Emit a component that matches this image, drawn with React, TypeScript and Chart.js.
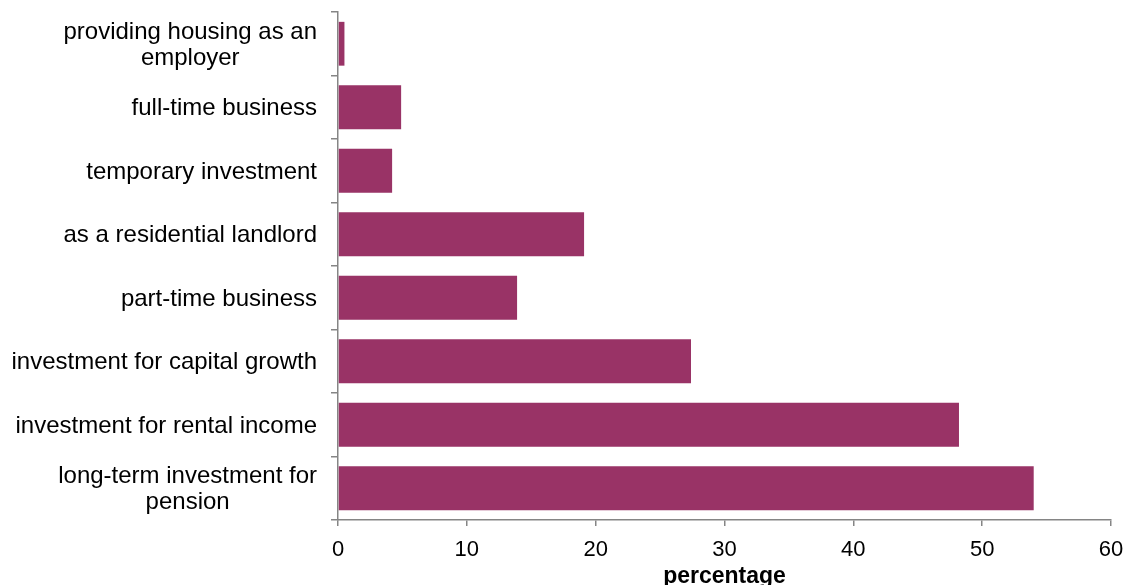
import React, { useEffect, useRef } from "react";
import { Chart, registerables } from "chart.js";

Chart.register(...registerables);

const categories: string[][] = [
  ["providing housing as an", "employer"],
  ["full-time business"],
  ["temporary investment"],
  ["as a residential landlord"],
  ["part-time business"],
  ["investment for capital growth"],
  ["investment for rental income"],
  ["long-term investment for", "pension"],
];
const values: number[] = [0.5, 4.9, 4.2, 19.1, 13.9, 27.4, 48.2, 54.0];
const xTicks: number[] = [0, 10, 20, 30, 40, 50, 60];
const xTitle = "percentage";

const FONT = "'Liberation Sans', Arial, sans-serif";
const AXIS = "#858585";

const yLabelPlugin = {
  id: "yLabels",
  afterDraw(chart: any) {
    const ctx = chart.ctx;
    const y = chart.scales.y;
    ctx.save();
    ctx.font = `24px ${FONT}`;
    ctx.fillStyle = "#000";
    ctx.textBaseline = "middle";
    ctx.textAlign = "center";
    const right = 317;
    const lh = 26;
    categories.forEach((lines, i) => {
      const cy = y.getPixelForValue(i) + 1.5;
      const w = Math.max(...lines.map((l) => ctx.measureText(l).width));
      const cx = right - w / 2;
      const start = cy - ((lines.length - 1) * lh) / 2;
      lines.forEach((l, j) => ctx.fillText(l, cx, start + j * lh));
    });
    ctx.restore();
  },
};

export default function App() {
  const ref = useRef<HTMLCanvasElement | null>(null);
  useEffect(() => {
    if (!ref.current) return;
    const chart = new Chart(ref.current, {
      type: "bar",
      data: {
        labels: categories.map((c) => c.join(" ")),
        datasets: [
          {
            data: values,
            backgroundColor: "#993366",
            borderWidth: 0,
            barPercentage: 0.69,
            categoryPercentage: 1,
          },
        ],
      },
      options: {
        indexAxis: "y",
        animation: false,
        responsive: false,
        maintainAspectRatio: false,
        layout: { padding: { top: 12, right: 19, left: 0, bottom: 0 } },
        plugins: { legend: { display: false }, tooltip: { enabled: false } },
        scales: {
          y: {
            type: "category",
            offset: true,
            ticks: { display: false },
            grid: {
              display: true,
              drawOnChartArea: false,
              drawTicks: true,
              tickLength: 7,
              color: AXIS,
              lineWidth: 1.5,
              offset: true,
            },
            border: { display: true, color: AXIS, width: 1.5 },
            afterFit: (s: any) => {
              s.width = 338;
            },
          },
          x: {
            type: "linear",
            min: 0,
            max: 60,
            afterBuildTicks: (s: any) => {
              s.ticks = xTicks.map((v) => ({ value: v }));
            },
            ticks: {
              color: "#000",
              font: { family: FONT, size: 22 },
              padding: 11,
              maxRotation: 0,
            },
            grid: {
              display: true,
              drawOnChartArea: false,
              drawTicks: true,
              tickLength: 6,
              color: AXIS,
              lineWidth: 1.5,
            },
            border: { display: true, color: AXIS, width: 1.5 },
            title: {
              display: true,
              text: xTitle,
              color: "#000",
              font: { family: FONT, size: 23, weight: "bold", lineHeight: 0.75 },
              padding: { top: 0, bottom: 0 },
            },
            afterFit: (s: any) => {
              s.height = 65;
              s.paddingLeft = 0;
              s.paddingRight = 0;
            },
          },
        },
      },
      plugins: [yLabelPlugin],
    });
    return () => chart.destroy();
  }, []);
  return (
    <div style={{ position: "fixed", left: 0, top: 0, width: 1130, height: 585, background: "#fff" }}>
      <canvas ref={ref} width={1130} height={585} style={{ display: "block" }} />
    </div>
  );
}
